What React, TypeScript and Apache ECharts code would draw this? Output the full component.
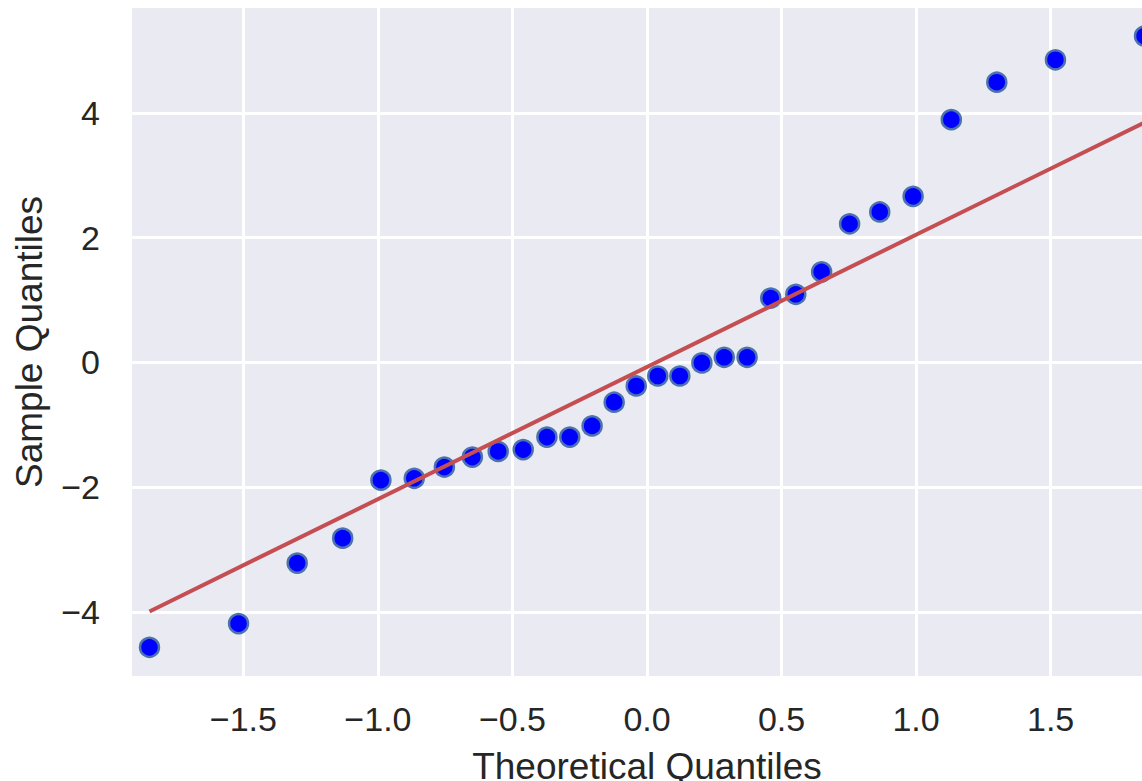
import React, { useEffect, useRef } from "react";
import * as echarts from "echarts";

// Theoretical (normal) quantiles, n = 30
const theoreticalQuantiles = [
  -1.849, -1.518, -1.3, -1.131, -0.989, -0.865, -0.753, -0.649, -0.553, -0.46,
  -0.372, -0.287, -0.204, -0.122, -0.04, 0.04, 0.122, 0.204, 0.287, 0.372,
  0.46, 0.553, 0.649, 0.753, 0.865, 0.989, 1.131, 1.3, 1.518, 1.849,
];
// Sample quantiles (sorted)
const sampleQuantiles = [
  -4.57, -4.19, -3.22, -2.82, -1.89, -1.86, -1.68, -1.52, -1.43, -1.4,
  -1.2, -1.2, -1.02, -0.64, -0.38, -0.22, -0.22, -0.01, 0.08, 0.08,
  1.03, 1.09, 1.45, 2.22, 2.41, 2.66, 3.89, 4.49, 4.85, 5.23,
];
// Reference line (estimated)
const lineIntercept = -0.075;
const lineSlope = 2.12;

const xLimits = [-1.914, 1.914];
const yLimits = [-5.03, 5.68];

const fmtMinus = (s: string) => s.replace("-", "\u2212");

export default function App() {
  const ref = useRef<HTMLDivElement>(null);
  useEffect(() => {
    if (!ref.current) return;
    const chart = echarts.init(ref.current, undefined, { renderer: "svg" });
    const pts = theoreticalQuantiles.map((x, i) => [x, sampleQuantiles[i]]);
    const x0 = Math.min(...theoreticalQuantiles);
    const x1 = Math.max(...theoreticalQuantiles);
    const lineData = [
      [x0, lineIntercept + lineSlope * x0],
      [x1, lineIntercept + lineSlope * x1],
    ];
    const font = "Liberation Sans";
    chart.setOption({
      animation: false,
      backgroundColor: "#ffffff",
      grid: {
        left: 132,
        right: 0,
        top: 8,
        bottom: 105,
        show: true,
        backgroundColor: "#EAEAF2",
        borderWidth: 0,
        containLabel: false,
        outerBoundsMode: "none",
      },
      xAxis: {
        type: "value",
        min: xLimits[0],
        max: xLimits[1],
        splitNumber: 8,
        name: "Theoretical Quantiles",
        nameLocation: "middle",
        nameGap: 72,
        nameTextStyle: { fontFamily: font, fontSize: 37, color: "#262626" },
        axisLine: { show: false },
        axisTick: { show: false },
        axisLabel: {
          margin: 26,
          fontFamily: font,
          fontSize: 34,
          color: "#262626",
          showMinLabel: false,
          showMaxLabel: false,
          formatter: (v: number) => fmtMinus(v.toFixed(1)),
        },
        splitLine: {
          show: true,
          showMinLine: false,
          showMaxLine: false,
          lineStyle: { color: "#ffffff", width: 3 },
        },
      },
      yAxis: {
        type: "value",
        min: yLimits[0],
        max: yLimits[1],
        splitNumber: 5,
        name: "Sample Quantiles",
        nameLocation: "middle",
        nameGap: 84,
        nameTextStyle: { fontFamily: font, fontSize: 37, color: "#262626" },
        axisLine: { show: false },
        axisTick: { show: false },
        axisLabel: {
          margin: 32,
          fontFamily: font,
          fontSize: 34,
          color: "#262626",
          showMinLabel: false,
          showMaxLabel: false,
          formatter: (v: number) => fmtMinus(String(Math.round(v))),
        },
        splitLine: {
          show: true,
          showMinLine: false,
          showMaxLine: false,
          lineStyle: { color: "#ffffff", width: 3 },
        },
      },
      series: [
        {
          type: "scatter",
          data: pts,
          symbol: "circle",
          symbolSize: 19,
          itemStyle: {
            color: "#0000FF",
            borderColor: "#4C72B0",
            borderWidth: 2.5,
            opacity: 1,
          },
          z: 2,
        },
        {
          type: "line",
          data: lineData,
          showSymbol: false,
          symbol: "none",
          lineStyle: { color: "#C44E52", width: 4 },
          z: 3,
        },
      ],
    });
    return () => chart.dispose();
  }, []);
  return (
    <div
      style={{
        position: "fixed",
        left: 0,
        top: 0,
        width: 1142,
        height: 781,
        overflow: "hidden",
        background: "#fff",
      }}
    >
      <div ref={ref} style={{ width: 1162, height: 781 }} />
    </div>
  );
}
